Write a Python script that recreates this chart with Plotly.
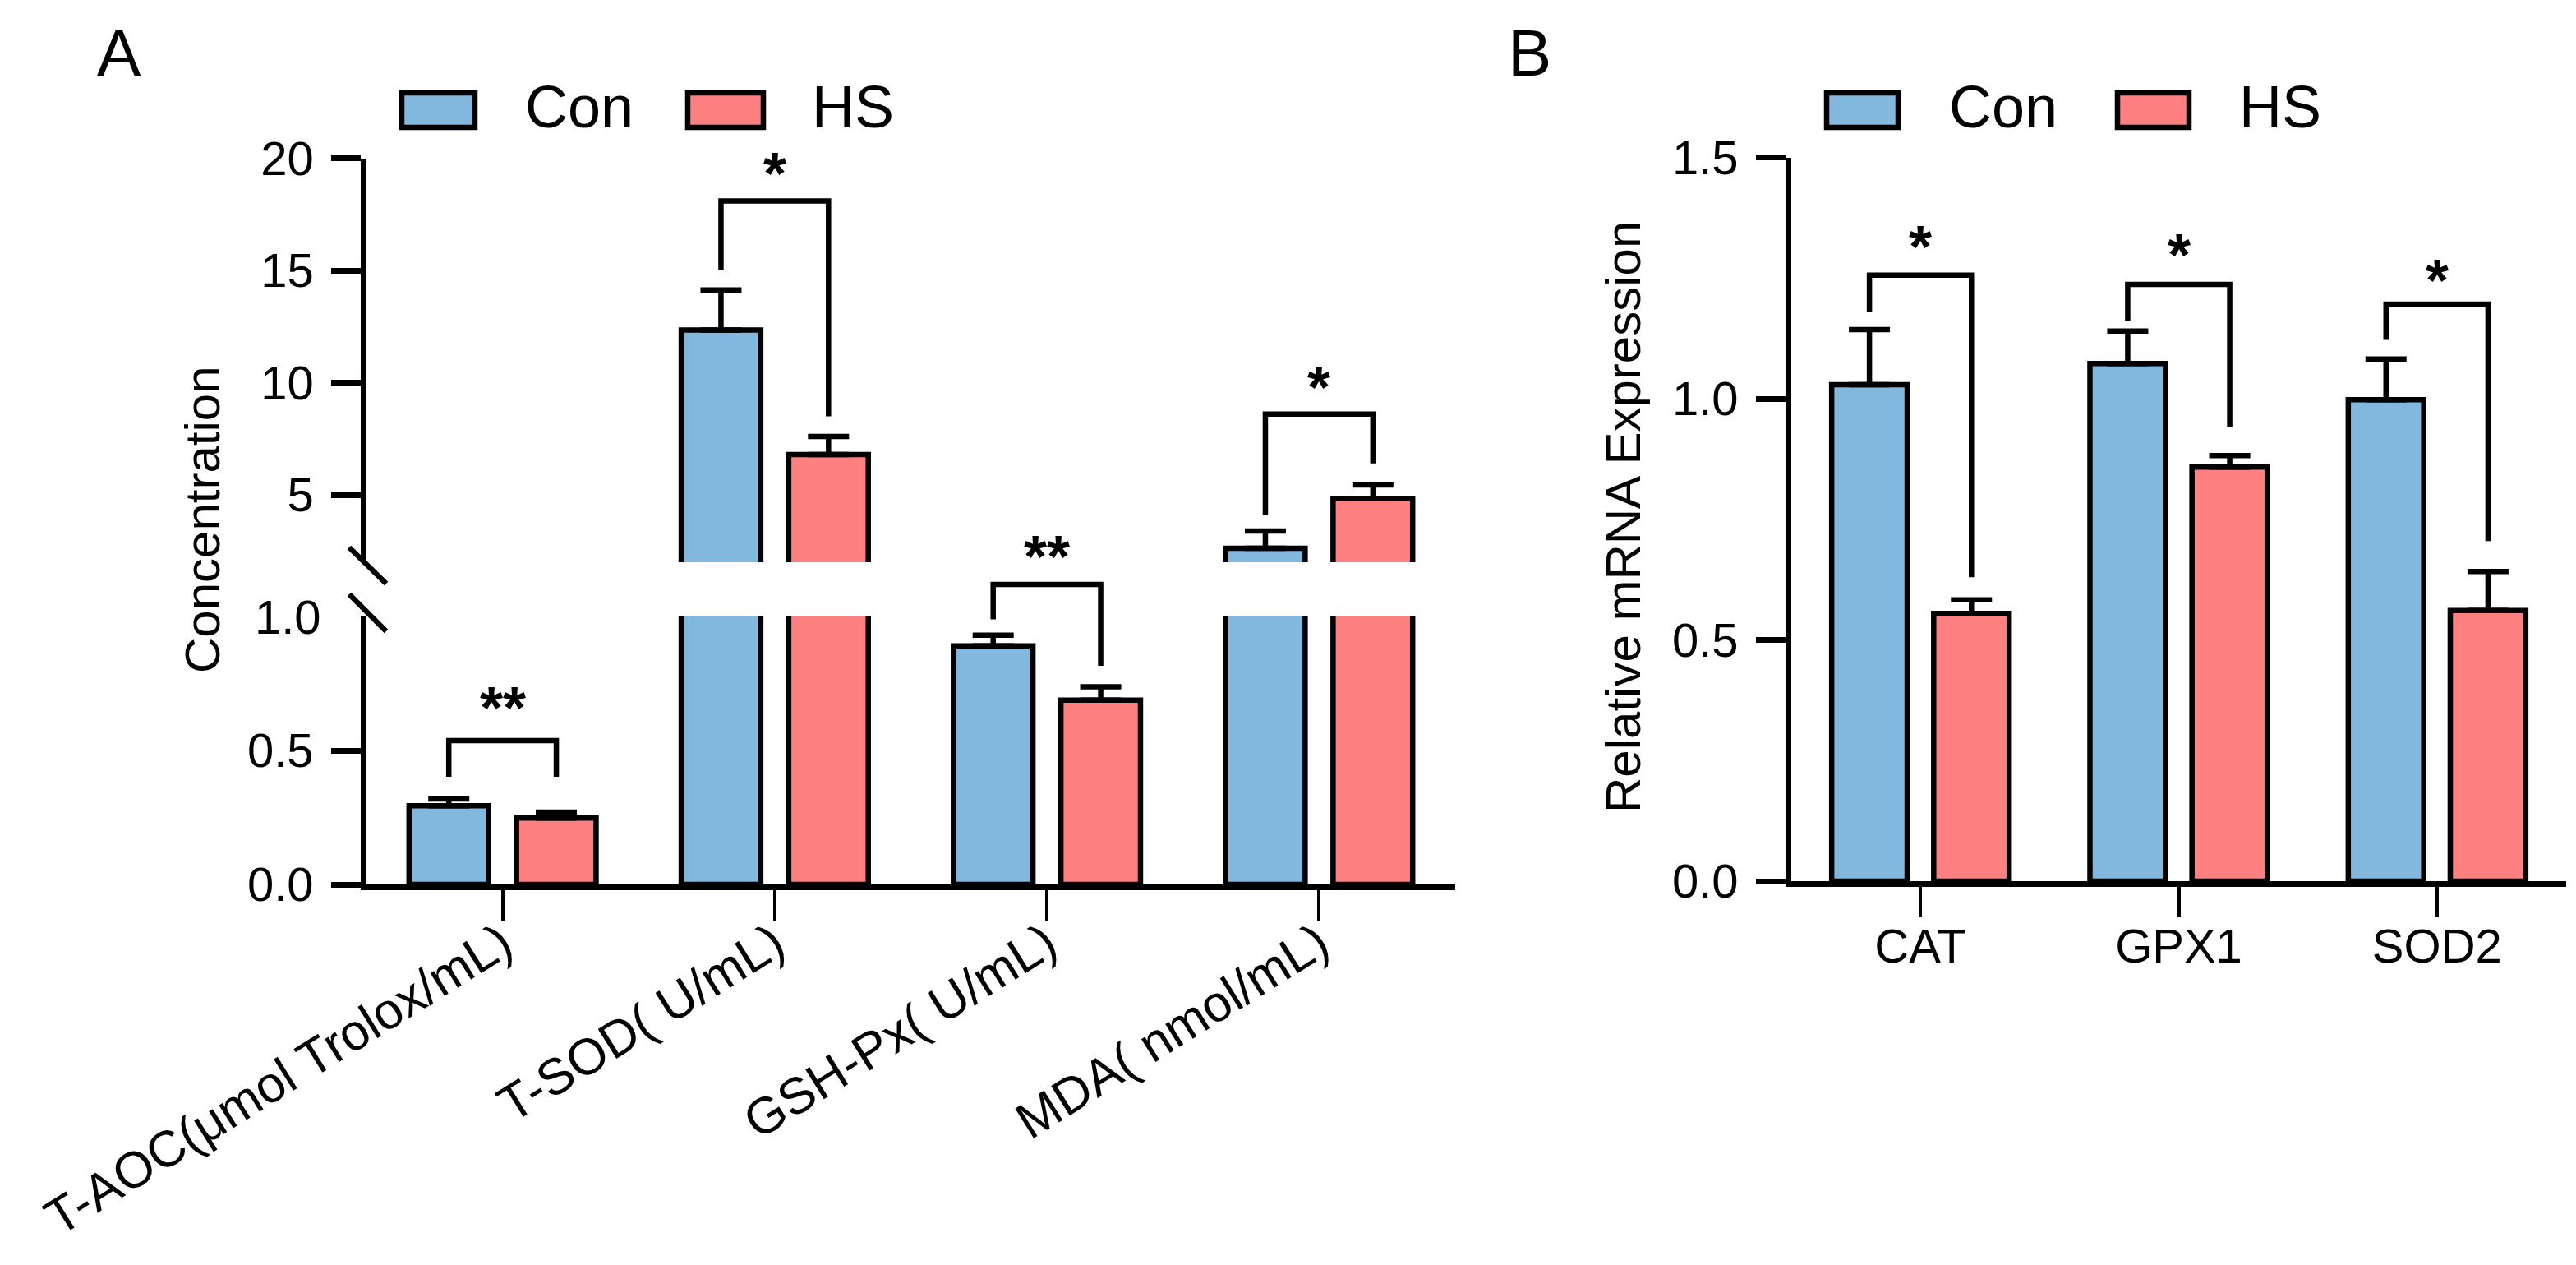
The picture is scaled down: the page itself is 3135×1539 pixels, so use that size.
import plotly.graph_objects as go

# ---- data ----
categories_a = ["T-AOC(μmol Trolox/mL)", "T-SOD( U/mL)", "GSH-Px( U/mL)", "MDA( nmol/mL)"]
con_a = [0.294, 12.35, 0.89, 2.62]
con_a_err = [0.025, 1.78, 0.04, 0.77]
hs_a = [0.248, 6.8, 0.688, 4.85]
hs_a_err = [0.022, 0.8, 0.05, 0.59]

genes_b = ["CAT", "GPX1", "SOD2"]
con_b = [1.029, 1.073, 0.998]
con_b_err = [0.114, 0.067, 0.084]
hs_b = [0.555, 0.858, 0.561]
hs_b_err = [0.028, 0.024, 0.081]

# significance: label, axis segment, bracket top, left leg end, right leg end, star height
sig_a = [
    ("**", "lo", 0.537, 0.402, 0.402, 0.709),
    ("*", "hi", 18.1, 15.0, 8.5, 19.9),
    ("**", "lo", 1.12, 0.989, 0.816, 1.273),
    ("*", "hi", 8.6, 4.12, 6.4, 10.38),
]
sig_b = [
    ("*", 1.256, 1.18, 0.63, 1.342),
    ("*", 1.237, 1.161, 0.942, 1.325),
    ("*", 1.196, 1.122, 0.705, 1.272),
]

# ---- style ----
W, H = 3135, 1539
BLUE = "#82B7DE"
RED = "#FF8080"
FONT = "Liberation Sans, Arial, sans-serif"
LW = 6.5
OFF = 0.1975  # bar centre offset inside a group (category units)


def px_x(p):
    return p / W


def px_y(p):
    return 1 - p / H


# panel A: broken y axis (lower 0-1, upper 2-20)
xa_dom = [px_x(438), px_x(1763)]
lo_dom = [px_y(1068), px_y(742)]
hi_dom = [px_y(676), px_y(184.5)]
lo_rng = [0, 1.0]
hi_rng = [2, 20]
# panel B
xb_dom = [px_x(2172), px_x(3115)]
yb_dom = [px_y(1064), px_y(183.5)]


def seg_to_paper(v, seg):
    if seg == "lo":
        d, r = lo_dom, lo_rng
    else:
        d, r = hi_dom, hi_rng
    return d[0] + (v - r[0]) / (r[1] - r[0]) * (d[1] - d[0])


def err(arr):
    return dict(type="data", array=arr, arrayminus=[0] * len(arr), symmetric=False,
                thickness=LW, width=25, color="black")


fig = go.Figure()

# panel A, drawn in both halves of the broken axis
for ya in ["y", "y2"]:
    fig.add_trace(go.Bar(x=list(range(len(categories_a))), y=con_a, error_y=err(con_a_err),
                         marker=dict(color=BLUE, line=dict(color="black", width=LW)),
                         xaxis="x", yaxis=ya, showlegend=False, name="Con"))
    fig.add_trace(go.Bar(x=list(range(len(categories_a))), y=hs_a, error_y=err(hs_a_err),
                         marker=dict(color=RED, line=dict(color="black", width=LW)),
                         xaxis="x", yaxis=ya, showlegend=False, name="HS"))

# panel B
fig.add_trace(go.Bar(x=list(range(len(genes_b))), y=con_b, error_y=err(con_b_err),
                     marker=dict(color=BLUE, line=dict(color="black", width=LW)),
                     xaxis="x2", yaxis="y3", showlegend=False, name="Con"))
fig.add_trace(go.Bar(x=list(range(len(genes_b))), y=hs_b, error_y=err(hs_b_err),
                     marker=dict(color=RED, line=dict(color="black", width=LW)),
                     xaxis="x2", yaxis="y3", showlegend=False, name="HS"))

tickfont = dict(family=FONT, size=58, color="black")
common_y = dict(showline=True, linecolor="black", linewidth=LW, ticks="outside", ticklen=36,
                tickwidth=LW, tickcolor="black", showgrid=False, zeroline=False,
                tickfont=tickfont, ticklabelstandoff=10, automargin=False, fixedrange=True)
common_x = dict(showline=True, linecolor="black", linewidth=LW, ticks="outside", ticklen=37,
                tickwidth=4, tickcolor="black", showgrid=False, zeroline=False,
                tickfont=tickfont, automargin=False, fixedrange=True)

fig.update_layout(
    width=W, height=H,
    margin=dict(l=0, r=0, t=0, b=0),
    paper_bgcolor="white", plot_bgcolor="white",
    barmode="group", bargap=0.21, bargroupgap=0.26,
    font=dict(family=FONT, color="black"),
    xaxis=dict(common_x, domain=xa_dom, anchor="y", range=[-0.5, 3.5],
               tickvals=list(range(len(categories_a))), ticktext=categories_a,
               tickangle=-32, ticklabelstandoff=-32,
               tickfont=dict(family=FONT, size=62, color="black")),
    yaxis=dict(common_y, domain=lo_dom, anchor="x", range=lo_rng,
               tickvals=[0, 0.5], ticktext=["0.0", "0.5"]),
    yaxis2=dict(common_y, domain=hi_dom, anchor="x", range=hi_rng,
                tickvals=[5, 10, 15, 20], ticktext=["5", "10", "15", "20"]),
    xaxis2=dict(common_x, domain=xb_dom, anchor="y3", range=[-0.5, 2.5],
                tickvals=list(range(len(genes_b))), ticktext=genes_b, ticklabelstandoff=-14),
    yaxis3=dict(common_y, domain=yb_dom, anchor="x2", range=[0, 1.5],
                tickvals=[0, 0.5, 1.0, 1.5], ticktext=["0.0", "0.5", "1.0", "1.5"]),
)

shapes = []
annotations = []

# "1.0" label at the top of the lower segment (no tick mark there)
annotations.append(dict(x=px_x(385), y=1.0, xref="paper", yref="y", text="1.0",
                        showarrow=False, xanchor="right", yanchor="middle", font=tickfont))

# axis break marks on panel A
ax_x = 438
for (x0, y0, x1, y1) in [(ax_x - 21, 676 - 18, ax_x + 24, 676 + 26),
                         (ax_x - 21, 742 - 27, ax_x + 24, 742 + 18)]:
    shapes.append(dict(type="line", xref="paper", yref="paper",
                       x0=px_x(x0), y0=px_y(y0), x1=px_x(x1), y1=px_y(y1),
                       line=dict(color="black", width=LW)))

# significance brackets, panel A
star_font = dict(family=FONT, size=72, color="black", weight="bold")
for i, (lab, seg, top, l_end, r_end, star) in enumerate(sig_a):
    xl, xr = i - OFF, i + OFF
    yt = seg_to_paper(top, seg)
    path = "M {},{} L {},{} L {},{} L {},{}".format(
        xl, seg_to_paper(l_end, seg), xl, yt, xr, yt, xr, seg_to_paper(r_end, seg))
    shapes.append(dict(type="path", xref="x", yref="paper", path=path,
                       line=dict(color="black", width=LW)))
    annotations.append(dict(x=i, y=seg_to_paper(star, seg), xref="x", yref="paper",
                            text=lab, showarrow=False, yanchor="middle", yshift=-16,
                            font=star_font))

# significance brackets, panel B
for i, (lab, top, l_end, r_end, star) in enumerate(sig_b):
    xl, xr = i - OFF, i + OFF
    path = "M {},{} L {},{} L {},{} L {},{}".format(xl, l_end, xl, top, xr, top, xr, r_end)
    shapes.append(dict(type="path", xref="x2", yref="y3", path=path,
                       line=dict(color="black", width=LW)))
    annotations.append(dict(x=i, y=star, xref="x2", yref="y3", text=lab, showarrow=False,
                            yanchor="middle", yshift=-16, font=star_font))

# legends drawn by hand (large swatches)
for (bx, tx) in [((481, 570, 829, 921), (629, 978)), ((2215, 2302, 2569, 2656), (2362, 2715))]:
    for (x0, x1), color, name, t in [((bx[0], bx[1]), BLUE, "Con", tx[0]),
                                     ((bx[2], bx[3]), RED, "HS", tx[1])]:
        shapes.append(dict(type="rect", xref="paper", yref="paper",
                           x0=px_x(x0), x1=px_x(x1), y0=px_y(147), y1=px_y(105),
                           fillcolor=color, line=dict(color="black", width=LW)))
        annotations.append(dict(x=px_x(t), y=px_y(122), xref="paper", yref="paper",
                                text=name, showarrow=False, xanchor="left", yanchor="middle",
                                font=dict(family=FONT, size=72, color="black")))

# panel letters
for letter, x in [("A", 137), ("B", 1853)]:
    annotations.append(dict(x=px_x(x), y=px_y(56), xref="paper", yref="paper", text=letter,
                            showarrow=False, xanchor="center", yanchor="middle",
                            font=dict(family=FONT, size=80, color="black")))

# y axis titles
annotations.append(dict(x=px_x(238), y=px_y(624), xref="paper", yref="paper",
                        text="Concentration", textangle=-90, showarrow=False,
                        xanchor="center", yanchor="middle",
                        font=dict(family=FONT, size=60, color="black")))
annotations.append(dict(x=px_x(1968), y=px_y(621), xref="paper", yref="paper",
                        text="Relative mRNA Expression", textangle=-90, showarrow=False,
                        xanchor="center", yanchor="middle",
                        font=dict(family=FONT, size=60, color="black")))

fig.update_layout(shapes=shapes, annotations=annotations)

fig.write_html("out.html")
